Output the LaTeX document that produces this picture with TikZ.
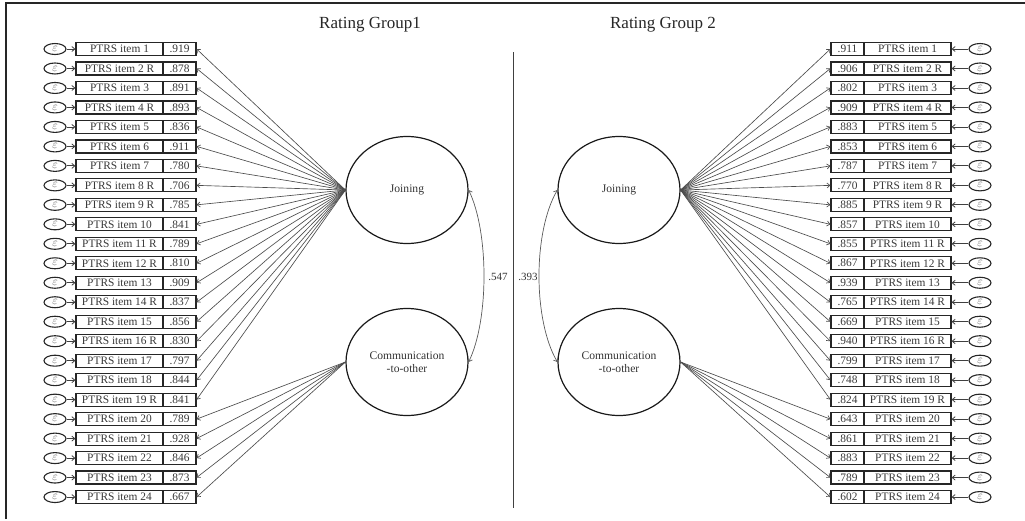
\documentclass[tikz,border=0pt]{standalone}
\usepackage{fontspec}
\setmainfont{Liberation Serif}
\usetikzlibrary{shapes.geometric,arrows.meta}
\tikzset{
  itembox/.style={draw=black!85,line width=1.2pt,rectangle,inner sep=0pt,minimum height=13pt,
    text=black!78,font=\fontsize{11.4}{12}\selectfont},
  lblbox/.style={itembox,minimum width=87pt},
  valbox/.style={itembox,minimum width=33pt},
  errnode/.style={draw=black!85,line width=1.1pt,ellipse,inner sep=0pt,minimum width=22pt,minimum height=11pt,
    text=black!65,font=\fontsize{12}{12}\selectfont},
  latent/.style={draw=black!90,line width=1.2pt,ellipse,inner sep=0pt,minimum width=122pt,minimum height=107pt,
    align=center,text=black!80,font=\fontsize{11.6}{13}\selectfont},
  arr/.style={draw=black!75,line width=0.8pt,-{Straight Barb[length=3pt,width=5pt]}},
  load/.style={draw=black!70,line width=0.65pt,-{Straight Barb[length=3pt,width=5pt]}},
  cov/.style={draw=black!65,line width=0.7pt,{Straight Barb[length=3pt,width=5pt]}-{Straight Barb[length=3pt,width=5pt]}},
  title/.style={text=black!85,font=\fontsize{17}{19}\selectfont},
  corr/.style={text=black!80,font=\fontsize{11}{12}\selectfont}
}
\begin{document}
\begin{tikzpicture}[x=1pt,y=-1pt]
\useasboundingbox (0,0) rectangle (1025,520);
% frame
\coordinate (fa) at (6,519);
\coordinate (fb) at (6,3);
\coordinate (fc) at (1025,3);
\draw[black!85,line width=1.4pt] (fa) -- (fb) -- (fc);
% divider
\coordinate (da) at (513,52);
\coordinate (db) at (513,508);
\draw[black!75,line width=1pt] (da) -- (db);
% titles
\node[title] (t1) at (370,25) {Rating Group1};
\node[title] (t2) at (663,25) {Rating Group 2};
% latent variables
\node[latent] (LJ) at (407,190) {Joining};
\node[latent] (LC) at (407,362) {Communication\\-to-other};
\node[latent] (RJ) at (619,190) {Joining};
\node[latent] (RC) at (619,362) {Communication\\-to-other};
% covariances
\draw[cov] (LJ.east) .. controls (489,232) and (489,320) .. (LC.east);
\draw[cov] (RJ.west) .. controls (533,232) and (533,320) .. (RC.west);
\node[corr] (c1) at (498,277) {.547};
\node[corr] (c2) at (528,277) {.393};
% items
\foreach \i/\t/\a/\b in {
  1/PTRS item 1/.919/.911,
  2/PTRS item 2 R/.878/.906,
  3/PTRS item 3/.891/.802,
  4/PTRS item 4 R/.893/.909,
  5/PTRS item 5/.836/.883,
  6/PTRS item 6/.911/.853,
  7/PTRS item 7/.780/.787,
  8/PTRS item 8 R/.706/.770,
  9/PTRS item 9 R/.785/.885,
  10/PTRS item 10/.841/.857,
  11/PTRS item 11 R/.789/.855,
  12/PTRS item 12 R/.810/.867,
  13/PTRS item 13/.909/.939,
  14/PTRS item 14 R/.837/.765,
  15/PTRS item 15/.856/.669,
  16/PTRS item 16 R/.830/.940,
  17/PTRS item 17/.797/.799,
  18/PTRS item 18/.844/.748,
  19/PTRS item 19 R/.841/.824,
  20/PTRS item 20/.789/.643,
  21/PTRS item 21/.928/.861,
  22/PTRS item 22/.846/.883,
  23/PTRS item 23/.873/.789,
  24/PTRS item 24/.667/.602}{
  \pgfmathsetmacro\yy{49+(\i-1)*19.48}
  % left side
  \node[lblbox] (L\i) at (119.5,\yy) {\t};
  \node[valbox] (LV\i) at (179.5,\yy) {\a};
  \node[errnode] (LE\i) at (55,\yy) {$\varepsilon$};
  \draw[arr] (LE\i) -- (L\i);
  % right side
  \node[valbox] (RV\i) at (847.5,\yy) {\b};
  \node[lblbox] (R\i) at (907.5,\yy) {\t};
  \node[errnode] (RE\i) at (980,\yy) {$\varepsilon$};
  \draw[arr] (RE\i) -- (R\i);
  \ifnum\i<20
    \draw[load] (LJ.west) -- (LV\i.east);
    \draw[load] (RJ.east) -- (RV\i.west);
  \else
    \draw[load] (LC.west) -- (LV\i.east);
    \draw[load] (RC.east) -- (RV\i.west);
  \fi
}
\end{tikzpicture}
\end{document}
